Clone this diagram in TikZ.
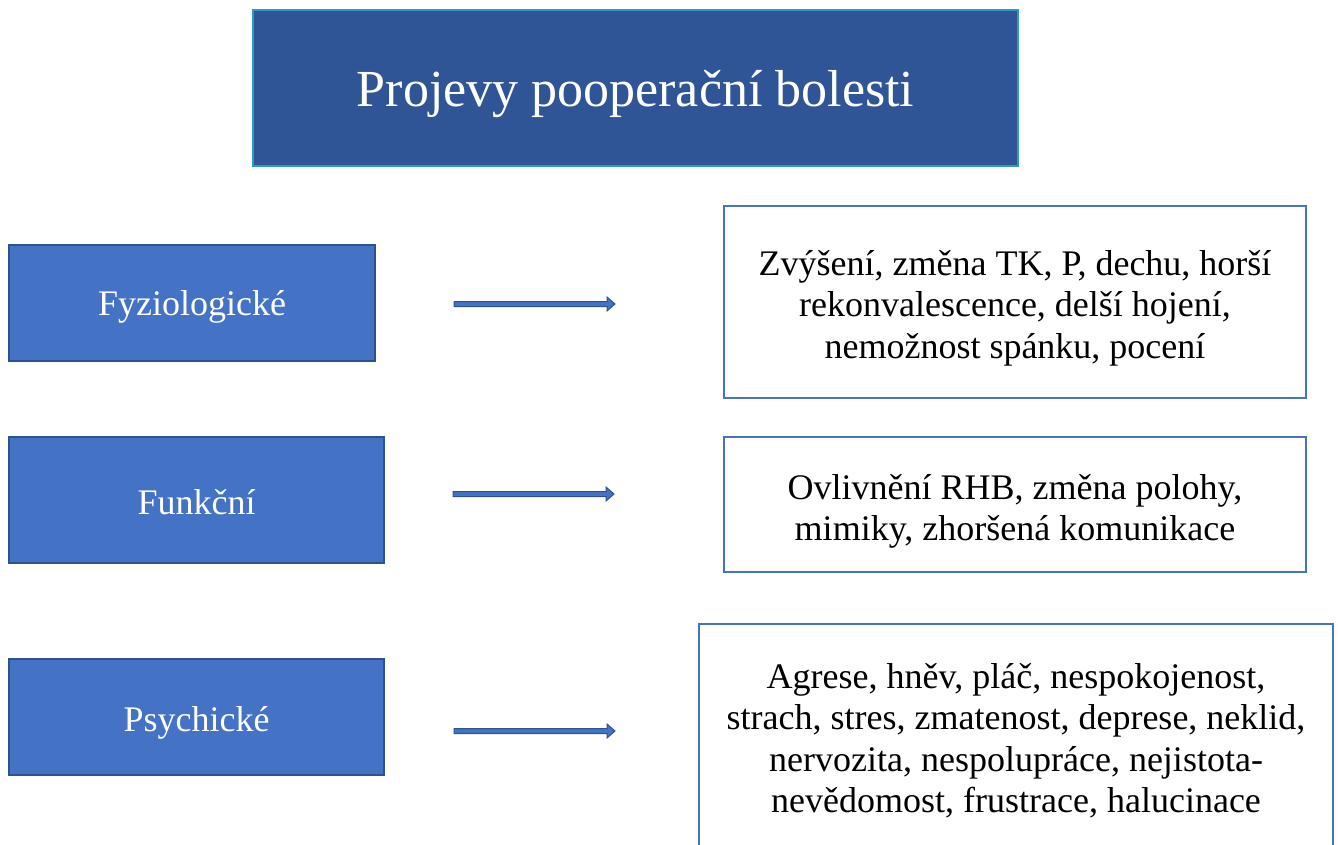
\documentclass[tikz,border=0pt]{standalone}
\usepackage{fontspec}
\setmainfont{Liberation Serif}
\usetikzlibrary{calc}
\definecolor{titlefill}{HTML}{2F5597}
\definecolor{titleline}{HTML}{2E9AC4}
\definecolor{boxfill}{HTML}{4472C4}
\definecolor{boxline}{HTML}{2F528F}
\tikzset{
  titlebox/.style={draw=titleline, line width=2pt, fill=titlefill, inner sep=0pt},
  titletext/.style={text=white, inner sep=0pt, font=\fontsize{52}{60}\selectfont},
  catbox/.style={draw=boxline, line width=2pt, fill=boxfill, inner sep=0pt},
  cattext/.style={text=white, inner sep=0pt, font=\fontsize{36}{41}\selectfont},
  descbox/.style={draw=boxfill, line width=2pt, fill=white, inner sep=0pt},
  desctext/.style={text=black, inner sep=0pt, align=center, font=\fontsize{36}{41.5}\selectfont},
  blockarrow/.style={draw=boxline, line width=1pt, fill=boxfill, line join=miter}
}
\begin{document}
\begin{tikzpicture}[x=1pt,y=-1pt]
\useasboundingbox (0,0) rectangle (1338,844);
\clip (0,0) rectangle (1338,844);
\fill[white] (0,0) rectangle (1338,844);

\node[titlebox, minimum width=765pt, minimum height=156pt] (title) at (635.5,88) {};
\node[titletext] (titlet) at ($(title.center)+(0,6)$) {Projevy pooperační bolesti};

\node[catbox, minimum width=366pt, minimum height=116pt] (fyz) at (192,303) {};
\node[cattext] (fyzt) at ($(fyz.center)+(0,4)$) {Fyziologické};
\node[catbox, minimum width=375pt, minimum height=126pt] (fun) at (196.5,500) {};
\node[cattext] (funt) at ($(fun.center)+(0,2)$) {Funkční};
\node[catbox, minimum width=375pt, minimum height=116pt] (psy) at (196.5,717) {};
\node[cattext] (psyt) at ($(psy.center)+(0,6)$) {Psychické};

\node[descbox, minimum width=582pt, minimum height=192pt] (r1) at (1015,302) {};
\node[desctext] (r1t) at ($(r1.center)+(0,6)$)
  {Zvýšení, změna TK, P, dechu, horší\\rekonvalescence, delší hojení,\\nemožnost spánku, pocení};
\node[descbox, minimum width=582pt, minimum height=135pt] (r2) at (1015,504.5) {};
\node[desctext] (r2t) at ($(r2.center)+(0,7)$)
  {Ovlivnění RHB, změna polohy,\\mimiky, zhoršená komunikace};
\node[descbox, minimum width=634pt, minimum height=230pt] (r3) at (1016,739) {};
\node[desctext] (r3t) at ($(r3.center)+(0,1.5)$)
  {Agrese, hněv, pláč, nespokojenost,\\strach, stres, zmatenost, deprese, neklid,\\nervozita, nespolupráce, nejistota-\\nevědomost, frustrace, halucinace};

\coordinate (a1s) at (454,304); \coordinate (a1e) at (615,304);
\coordinate (a2s) at (453,494); \coordinate (a2e) at (614,494);
\coordinate (a3s) at (454,731); \coordinate (a3e) at (615,731);
\foreach \s/\e in {a1s/a1e, a2s/a2e, a3s/a3e}{
  \draw[blockarrow] ($(\s)+(0,-2.5)$) -- ($(\e)+(-8,-2.5)$) -- ($(\e)+(-8,-7)$) -- (\e)
    -- ($(\e)+(-8,7)$) -- ($(\e)+(-8,2.5)$) -- ($(\s)+(0,2.5)$) -- cycle;
}
\end{tikzpicture}
\end{document}
